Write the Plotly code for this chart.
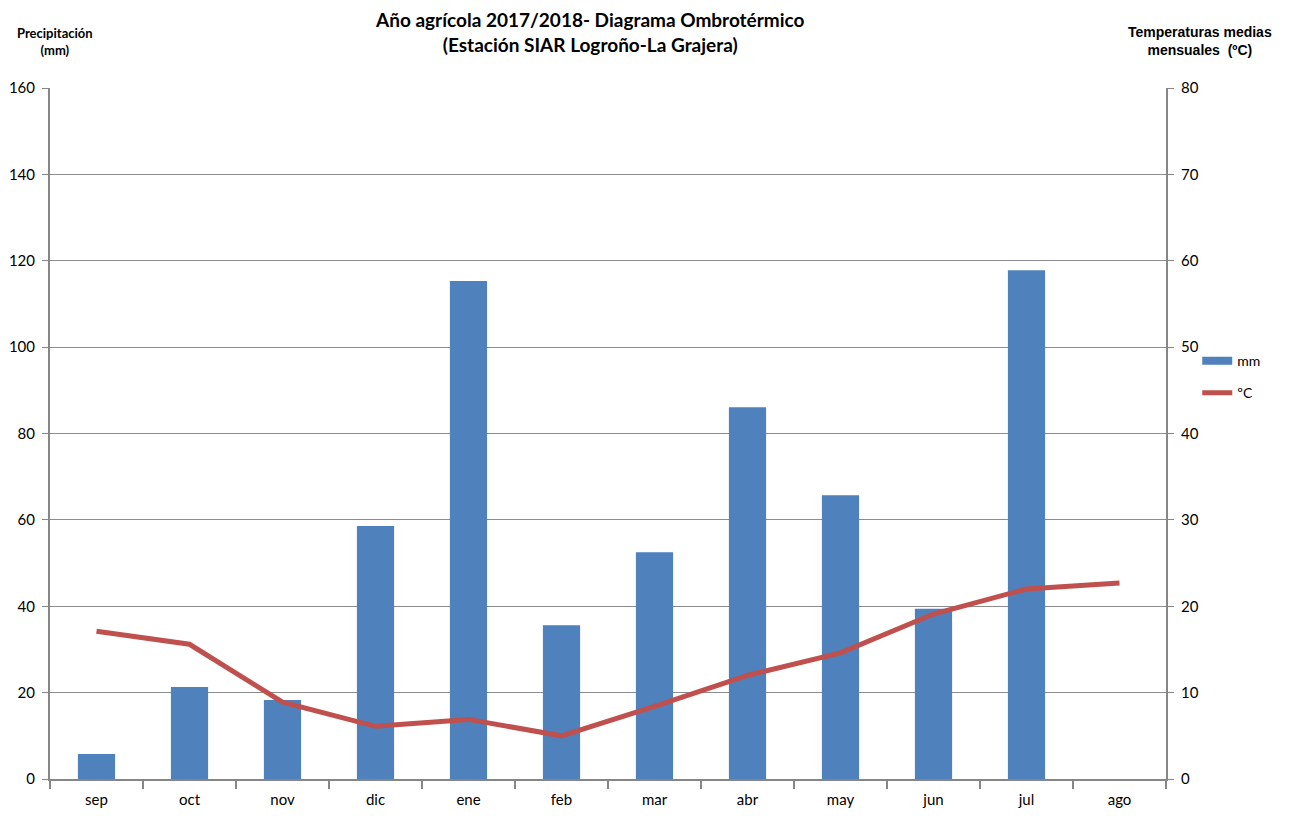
import plotly.graph_objects as go

months = ['sep', 'oct', 'nov', 'dic', 'ene', 'feb', 'mar', 'abr', 'may', 'jun', 'jul', 'ago']
precip_mm = [5.8, 21.3, 18.3, 58.6, 115.3, 35.6, 52.5, 86.1, 65.7, 39.4, 117.8, 0]
temp_c = [17.1, 15.6, 8.9, 6.1, 6.9, 5.0, 8.4, 12.0, 14.6, 19.1, 22.0, 22.7]

BLUE = '#4F81BD'
RED = '#C0504D'
GREY = '#868686'

fig = go.Figure()
fig.add_trace(go.Bar(x=months, y=precip_mm, name='mm', width=0.4, showlegend=False,
                     marker=dict(color=BLUE, line=dict(width=0))))
# legend entry drawn as a flat bar like in the original
fig.add_trace(go.Scatter(x=[None], y=[None], name='mm', mode='lines', legendgroup='a',
                         line=dict(color=BLUE, width=8)))
fig.add_trace(go.Scatter(x=months, y=temp_c, name='ºC', mode='lines', yaxis='y2',
                         legendgroup='b', line=dict(color=RED, width=5)))

# page body has an 8px margin, so the figure is 16px smaller than the window
W, H = 1273, 800
L, R, T, B = 42, 115, 80, 29
pw, ph = W - L - R, H - T - B
OFF = 8


def px_x(page_x):
    return (page_x - OFF - L) / pw


fig.update_layout(
    width=W, height=H,
    margin=dict(l=L, r=R, t=T, b=B, autoexpand=False),
    paper_bgcolor='white',
    plot_bgcolor='white',
    font=dict(family='Lato, Open Sans, sans-serif', size=15, color='black'),
    showlegend=True,
    legend=dict(x=1.028, y=0.628, xanchor='left', yanchor='top', bgcolor='rgba(0,0,0,0)',
                font=dict(size=14), tracegroupgap=11),
    xaxis=dict(showline=True, linecolor=GREY, linewidth=2, ticks='outside',
               tickson='boundaries', ticklen=8, tickcolor=GREY, tickwidth=2,
               ticklabelstandoff=6, automargin=False),
    yaxis=dict(range=[0, 160], dtick=20, showgrid=True, gridcolor='#8c8c8c',
               showline=True, linecolor=GREY, linewidth=2, ticks='outside',
               ticklen=6, tickcolor=GREY, zeroline=False, ticklabelstandoff=4,
               automargin=False),
    yaxis2=dict(range=[0, 80], dtick=10, overlaying='y', side='right', showgrid=False,
                showline=True, linecolor=GREY, linewidth=2, ticks='outside',
                ticklen=6, tickcolor=GREY, zeroline=False, ticklabelstandoff=4,
                automargin=False),
)

fig.add_annotation(text='<b>Año agrícola 2017/2018- Diagrama Ombrotérmico<br>(Estación SIAR Logroño-La Grajera)</b>',
                   x=px_x(590), xref='paper', y=1 + 56 / ph, yref='paper',
                   xanchor='center', yanchor='middle', showarrow=False,
                   font=dict(size=19, family='Lato, sans-serif'))
fig.add_annotation(text='<b>Precipitación<br>(mm)</b>',
                   x=px_x(55), xref='paper', y=1 + 46 / ph, yref='paper',
                   xanchor='center', yanchor='middle', showarrow=False,
                   font=dict(size=13, family='Lato, sans-serif'))
fig.add_annotation(text='<b>Temperaturas medias<br>mensuales  (ºC)</b>',
                   x=px_x(1200), xref='paper', y=1 + 47 / ph, yref='paper',
                   xanchor='center', yanchor='middle', showarrow=False,
                   font=dict(size=14, family='Liberation Sans, Arial, sans-serif'))

fig.write_html("out.html")
